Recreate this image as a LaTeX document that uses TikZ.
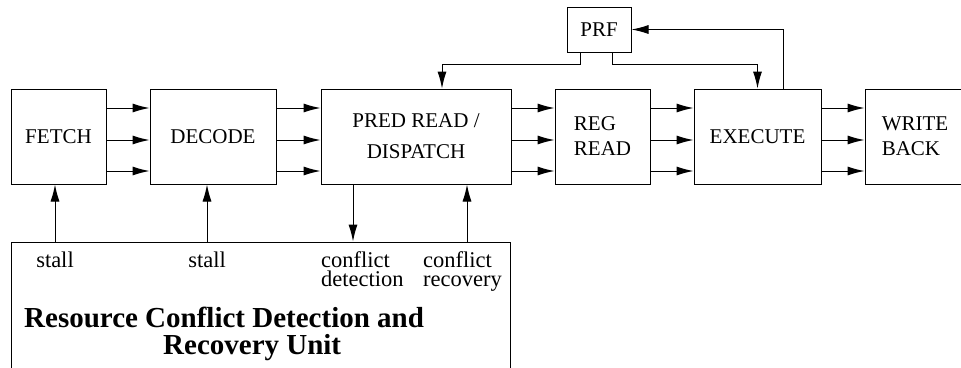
\documentclass[tikz,border=0pt]{standalone}
\usepackage{fontspec}
\setmainfont{Liberation Serif}
\usepackage{tikz}
\usetikzlibrary{arrows.meta}

\tikzset{
  stage/.style={draw, line width=1pt, minimum height=95pt, inner sep=0pt,
    font=\fontsize{21}{25}\selectfont, align=left},
  arr/.style={-{Latex[length=17pt,width=9pt]}, line width=1pt},
  lbl/.style={inner sep=0pt, font=\fontsize{22.5}{19}\selectfont, align=left}
}

\begin{document}
\begin{tikzpicture}[x=1pt,y=-1pt]
\useasboundingbox (0,0) rectangle (961,367);
\fill[white] (0,0) rectangle (961,367);
\clip (0,0) rectangle (961,367);
% pipeline stages
\node[stage, minimum width=95pt] (fetch) at (58.5,136.5) {FETCH};
\node[stage, minimum width=126pt] (decode) at (213,136.5) {DECODE};
\node[stage, minimum width=190pt, align=center, font=\fontsize{21}{31}\selectfont] (dispatch) at (416,136.5) {PRED READ /\\DISPATCH};
\node[stage, minimum width=95pt] (regread) at (602.5,136.5) {REG\\READ};
\node[stage, minimum width=127pt] (execute) at (757.5,136.5) {EXECUTE};
\node[stage, minimum width=100pt] (writeback) at (915,136.5) {WRITE\\BACK};
\node[stage, minimum width=64pt, minimum height=45pt] (prf) at (599,29.5) {PRF};
% conflict unit (runs off the bottom)
\node[draw, line width=1pt, minimum width=499pt, minimum height=140pt] (unit) at (260.5,312) {};
\node[inner sep=0pt, anchor=north west, align=left, font=\bfseries\fontsize{29}{27}\selectfont] (title) at (24,307) {Resource Conflict Detection and\\\hspace*{139pt}Recovery Unit};
% three wires between neighbouring stages
\foreach \a/\b in {fetch/decode, decode/dispatch, dispatch/regread, regread/execute, execute/writeback}
  \foreach \y in {108,140,171}
    \draw[arr] (\a.east |- 0,\y) -- (\b.west |- 0,\y);
% register file
\draw[arr] (prf.south -| 580,0) -- (580,64) -| (dispatch.north -| 442,0);
\draw[arr] (prf.south -| 612,0) -- (612,64) -| (execute.north);
\draw[arr] (execute.north -| 783,0) |- (prf.east);
% stall and conflict signals
\draw[arr] (unit.north -| 55,0) -- (fetch.south -| 55,0);
\draw[arr] (unit.north -| 207,0) -- (decode.south -| 207,0);
\draw[arr] (dispatch.south -| 353,0) -- (unit.north -| 353,0);
\draw[arr] (unit.north -| 467,0) -- (dispatch.south -| 467,0);
\node[lbl, anchor=base] (stall1) at (55,267) {stall};
\node[lbl, anchor=base] (stall2) at (207,267) {stall};
\node[lbl, anchor=north west] (detect) at (321,251) {conflict\\detection};
\node[lbl, anchor=north west] (recover) at (423,251) {conflict\\recovery};
\end{tikzpicture}
\end{document}
